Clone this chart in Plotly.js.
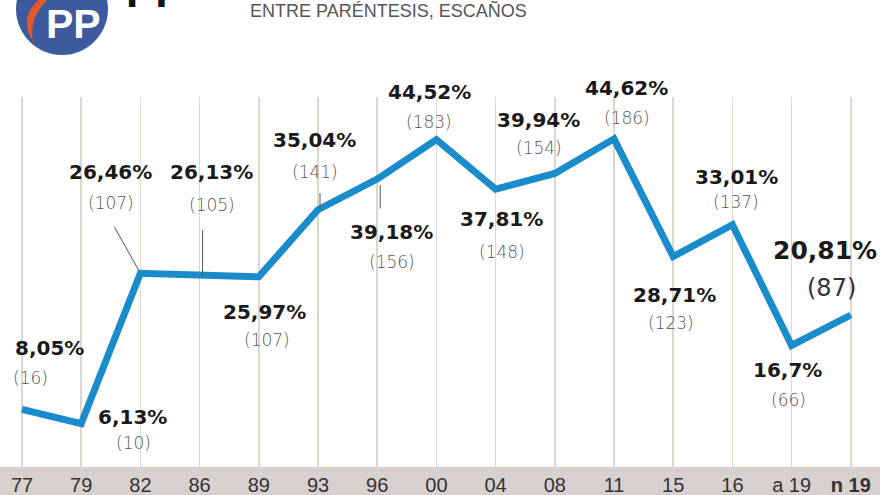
<!DOCTYPE html>
<html>
<head>
<meta charset="utf-8">
<script src="https://cdn.plot.ly/plotly-3.0.1.min.js"></script>
<style>html,body{margin:0;padding:0;background:#fff;}#chart{width:880px;height:495px;}</style>
</head>
<body>
<div id="chart"></div>
<script>
// ---- data ----
var years = ['77','79','82','86','89','93','96','00','04','08','11','15','16','a 19','n 19'];
var tickLabels = ['77','79','82','86','89','93','96','00','04','08','11','15','16','a 19','<b>n 19</b>'];
var votePct = [8.05, 6.13, 26.46, 26.13, 25.97, 35.04, 39.18, 44.52, 37.81, 39.94, 44.62, 28.71, 33.01, 16.7, 20.81];
var seats = [16, 10, 107, 105, 107, 141, 156, 183, 148, 154, 186, 123, 137, 66, 87];
var subtitle = 'ENTRE PARÉNTESIS, ESCAÑOS';

// ---- layout helpers (pixels -> paper) ----
var W = 880, H = 495, MT = 97, MB = 26;
var PH = H - MT - MB;
function xp(px){ return px / W; }
function yp(py){ return (H - MB - py) / PH; }

// label offsets in px relative to each point: [pctDx, pctDy, seatDx, seatDy] (dy downward)
var labelOffsets = [
  [27,-61, 8,-31],
  [51,-7, 52,19],
  [-30,-101, -29,-70],
  [12,-104, 12,-71],
  [6,35, 8,63],
  [-4,-70, -3,-38],
  [14,53, 15,83],
  [-7,-48, -7,-18],
  [6,30, 6,63],
  [-16,-53, -16,-25],
  [12,-51, 13,-21],
  [1,38, -2,66],
  [4,-48, 4,-23],
  [-4,25, -3,55],
  [-26,-65, -19,-27]
];
// leader lines: [index, xshift, ax, ay, standoff]
var leaders = [
  [2, 0, -27, -48, 3],
  [3, 3, 0, -47, 0],
  [5, 2, 0, -18, 0],
  [6, 3, 0, 31, 6]
];

var annotations = [];
for (var i = 0; i < years.length; i++) {
  var o = labelOffsets[i];
  var big = (i === years.length - 1);
  annotations.push({
    x: i, y: votePct[i], xref: 'x', yref: 'y', showarrow: false,
    xanchor: 'center', yanchor: 'middle',
    text: String(votePct[i]).replace('.', ',') + '%',
    xshift: o[0], yshift: -o[1],
    font: {family: 'DejaVu Sans', size: big ? 25 : 20, color: '#1a1a1a', weight: 'bold'}
  });
  annotations.push({
    x: i, y: votePct[i], xref: 'x', yref: 'y', showarrow: false,
    xanchor: 'center', yanchor: 'middle',
    text: '(' + seats[i] + ')',
    xshift: o[2], yshift: -o[3],
    font: {family: 'DejaVu Sans', size: big ? 24 : 17, color: big ? '#333' : '#555', weight: big ? 'normal' : 300}
  });
}
leaders.forEach(function(l){
  annotations.push({
    x: l[0], y: votePct[l[0]], xref: 'x', yref: 'y', text: '', showarrow: true,
    arrowhead: 0, arrowwidth: 1, arrowcolor: '#555', ax: l[2], ay: l[3], xshift: l[1], standoff: l[4]
  });
});
// header texts
annotations.push({xref: 'paper', yref: 'paper', x: xp(73), y: yp(24), xanchor: 'center', yanchor: 'middle', showarrow: false,
  text: '<b>PP</b>', font: {family: 'Liberation Sans Narrow, Liberation Sans', size: 41, color: '#ffffff'}});
annotations.push({xref: 'paper', yref: 'paper', x: xp(124), y: yp(-9), xanchor: 'left', yanchor: 'middle', showarrow: false,
  text: '<b>PP</b>', font: {family: 'Liberation Sans', size: 44, color: '#111'}});
annotations.push({xref: 'paper', yref: 'paper', x: xp(248), y: yp(10), xanchor: 'left', yanchor: 'middle', showarrow: false,
  text: subtitle, font: {family: 'Liberation Sans', size: 18, color: '#555'}});

var swoosh = 'M ' + xp(46) + ' ' + yp(-6) + ' Q ' + xp(16) + ' ' + yp(14) + ' ' + xp(33) + ' ' + yp(42) +
             ' Q ' + xp(28) + ' ' + yp(14) + ' ' + xp(54) + ' ' + yp(-6) + ' Z';

var shapes = [
  {type: 'rect', xref: 'paper', yref: 'paper', x0: 0, x1: 1, y0: yp(H), y1: yp(467),
   fillcolor: '#d7d0cf', line: {width: 0}, layer: 'below'},
  {type: 'circle', xref: 'paper', yref: 'paper', x0: xp(16), x1: xp(108), y0: yp(55), y1: yp(-37),
   fillcolor: '#3d5a9e', line: {width: 0}, layer: 'above'},
  {type: 'path', xref: 'paper', yref: 'paper', path: swoosh, fillcolor: '#e3582a', line: {width: 0}, layer: 'above'}
];

var trace = {
  x: years, y: votePct, type: 'scatter', mode: 'lines',
  line: {color: '#1b8ccb', width: 7, shape: 'linear'},
  hoverinfo: 'skip', cliponaxis: false
};

var layout = {
  width: W, height: H,
  margin: {l: 0, r: 0, t: MT, b: MB, pad: 0},
  paper_bgcolor: '#ffffff', plot_bgcolor: '#ffffff',
  showlegend: false,
  xaxis: {
    type: 'category', range: [-22/59.2, 858/59.2],
    showgrid: true, gridcolor: '#dcd7cf', gridwidth: 1.5,
    zeroline: false, showline: false, ticks: '',
    tickmode: 'array', tickvals: years, ticktext: tickLabels,
    ticklabelstandoff: 2,
    tickfont: {family: 'Liberation Sans Narrow, Liberation Sans', size: 20, color: '#333'},
    fixedrange: true
  },
  yaxis: {
    range: [0, PH / 7.4], showgrid: false, zeroline: false, showticklabels: false, showline: false, fixedrange: true
  },
  annotations: annotations,
  shapes: shapes
};

Plotly.newPlot('chart', [trace], layout, {displayModeBar: false, staticPlot: true});
</script>
</body>
</html>
